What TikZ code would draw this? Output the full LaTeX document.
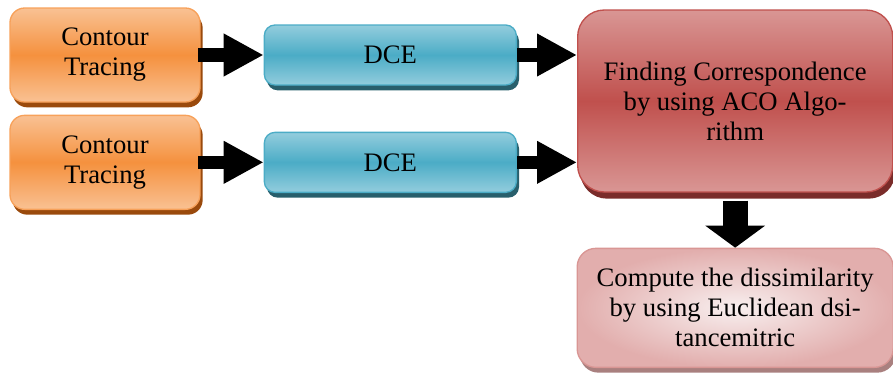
\documentclass[tikz,border=0pt]{standalone}
\usepackage{fontspec}
\setmainfont{Liberation Serif}
\usepackage{tikz}
\usetikzlibrary{positioning}
\usetikzlibrary{shapes,arrows.meta,shadows}
\definecolor{orangelight}{HTML}{F9C193}
\definecolor{orangemid}{HTML}{F5913E}
\definecolor{orangeedge}{HTML}{F7A15A}
\definecolor{orangeshade}{HTML}{9A4A0C}
\definecolor{bluelight}{HTML}{93CDDD}
\definecolor{bluemid}{HTML}{4BACC6}
\definecolor{blueshade}{HTML}{285F6C}
\definecolor{redlight}{HTML}{D99694}
\definecolor{redmid}{HTML}{C0504D}
\definecolor{redshade}{HTML}{7A2C2A}
\definecolor{pinklight}{HTML}{F8EFEF}
\definecolor{pinkouter}{HTML}{E2AEAD}
\definecolor{pinkshade}{HTML}{A9807F}
\tikzstyle{box} = [rectangle, draw, align=center, inner sep=0pt,
                font=\fontsize{20}{22.5}\selectfont]
\tikzstyle{trace} = [box, draw=orangeedge, line width=1pt, top color=orangelight,
                bottom color=orangelight, middle color=orangemid, rounded corners=11pt,
                minimum width=142.5pt, minimum height=70.5pt,
                drop shadow={fill=orangeshade, opacity=1, shadow xshift=2pt, shadow yshift=-4pt}]
\tikzstyle{dce} = [box, draw=bluemid, line width=1pt, top color=bluelight,
                bottom color=bluelight, middle color=bluemid, rounded corners=8pt,
                minimum width=189pt, minimum height=45pt,
                drop shadow={fill=blueshade, opacity=1, shadow xshift=2pt, shadow yshift=-4pt}]
\tikzstyle{match} = [box, draw=redmid, line width=1pt, top color=redlight,
                bottom color=redlight, middle color=redmid, rounded corners=20pt,
                minimum width=236.25pt, minimum height=136.5pt,
                drop shadow={fill=redshade, opacity=1, shadow xshift=2pt, shadow yshift=-5pt}]
\tikzstyle{result} = [box, draw=redlight, line width=1pt, inner color=pinklight,
                outer color=pinkouter, rounded corners=14pt,
                minimum width=237pt, minimum height=89.25pt,
                drop shadow={fill=pinkshade, opacity=1, shadow xshift=2pt, shadow yshift=-4pt}]
\tikzstyle{line} = [draw, line width=10pt, -{Triangle[width=30pt, length=30pt]}]
\tikzstyle{downline} = [draw, line width=19pt, -{Triangle[width=44pt, length=16.5pt]}]

\begin{document}
\begin{tikzpicture}
                \useasboundingbox (0,0) rectangle (669.75pt,-279pt);
                \node[trace] (trace1) at (78.75pt,-41.25pt) {Contour\\Tracing};
                \node[trace, below=9pt of trace1] (trace2) {Contour\\Tracing};
                \node[dce, right=47.25pt of trace1] (dce1) {DCE};
                \node[dce, right=47.25pt of trace2] (dce2) {DCE};
                \node[match, right=45pt of dce1, yshift=-34.5pt] (aco) {Finding Correspondence\\by using ACO Algo-\\rithm};
                \node[result, below=41.25pt of aco] (dissim) {Compute the dissimilarity\\by using Euclidean dsi-\\tancemitric};
                \path[line] ([xshift=-2pt]trace1.east) -- (dce1.west);
                \path[line] ([xshift=-2pt]trace2.east) -- (dce2.west);
                \path[line] (dce1.east) -- (dce1.east -| aco.west);
                \path[line] (dce2.east) -- (dce2.east -| aco.west);
                \path[downline, shorten <=6pt] (aco.south) -- (dissim.north);
            \end{tikzpicture}
\end{document}
